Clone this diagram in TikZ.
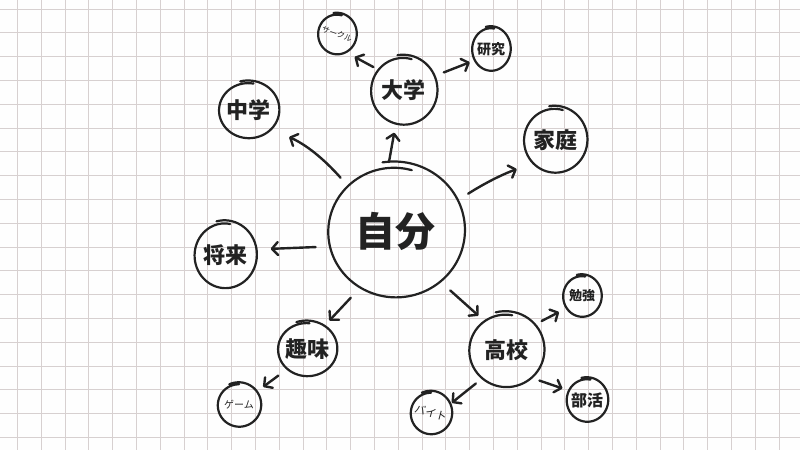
\documentclass[tikz,border=0pt]{standalone}
\usepackage{fontspec}
\newfontfamily\jpfont{Noto Sans CJK JP}
\usepackage{tikz}
\usetikzlibrary{arrows.meta, positioning}
\definecolor{inkdark}{RGB}{34, 34, 34}
\definecolor{gridgray}{RGB}{215, 208, 208}
\definecolor{paperwhite}{RGB}{254, 254, 254}

\tikzset{
    bubble/.style={circle, inner sep=0pt, text=inkdark},
    hugetext/.style={font={\jpfont\bfseries\fontsize{40}{44}\selectfont}},
    midtext/.style={font={\jpfont\bfseries\fontsize{22}{26}\selectfont}},
    smalltext/.style={font={\jpfont\bfseries\fontsize{14}{16}\selectfont}},
    tinytext/.style={font={\jpfont\fontsize{10}{12}\selectfont}},
    ringline/.style={draw=inkdark, line width=2.2pt, line cap=round},
    link/.style={draw=inkdark, line width=2.4pt, line cap=round,
        -{Straight Barb[length=6pt, width=13pt, round]}},
    gridline/.style={draw=gridgray, line width=0.8pt}
}

% hand drawn ring round a node: name, rx, ry, start angle
\newcommand{\sketchring}[4]{%
    \draw[ringline, shift={(#1.center)}]
        plot[smooth, samples=70, domain=0:385, variable=\t]
        ({(#2)*(1.04-0.1*\t/385)*cos(#4+\t)}, {(#3)*(1.04-0.1*\t/385)*sin(#4+\t)});
}

\begin{document}
\begin{tikzpicture}[x=1pt, y=-1pt]
        \fill[paperwhite] (0,0) rectangle (800,450);
        \useasboundingbox (0,0) rectangle (800,450);
        % squared paper
        \foreach \k in {0,...,32}
            \draw[gridline] ({17.3+23.8*\k},0) -- ({17.3+23.8*\k},450);
        \foreach \k in {0,...,18}
            \draw[gridline] (0,{9+23.8*\k}) -- (800,{9+23.8*\k});

        % centre
        \node[bubble, hugetext, minimum size=138pt] (jibun) at (395,231) {自分};
        % first ring
        \node[bubble, midtext, minimum size=68pt] (daigaku) at (403.5,90.5) {大学};
        \node[bubble, midtext, minimum size=62pt] (chuugaku) at (248.5,110) {中学};
        \node[bubble, midtext, minimum size=64pt] (katei) at (555,140) {家庭};
        \node[bubble, midtext, minimum size=64pt] (shourai) at (225,255) {将来};
        \node[bubble, midtext, minimum size=58pt] (shumi) at (307,349) {趣味};
        \node[bubble, midtext, minimum size=74pt] (koukou) at (506,350) {高校};
        % second ring
        \node[bubble, tinytext, font={\jpfont\fontsize{8}{10}\selectfont}, minimum size=40pt, rotate=-20] (saakuru) at (337,34) {サークル};
        \node[bubble, smalltext, minimum size=42pt] (kenkyuu) at (491,49) {研究};
        \node[bubble, tinytext, minimum size=44pt] (geemu) at (239,405) {ゲーム};
        \node[bubble, smalltext, font={\jpfont\bfseries\fontsize{13}{15}\selectfont}, minimum size=40pt] (benkyou) at (582,296) {勉強};
        \node[bubble, smalltext, font={\jpfont\bfseries\fontsize{16}{18}\selectfont}, minimum size=42pt] (bukatsu) at (587,400) {部活};
        \node[bubble, tinytext, font={\jpfont\fontsize{11}{13}\selectfont}, minimum size=42pt, rotate=-15] (baito) at (431,413) {バイト};

        \sketchring{jibun}{69}{67}{-100}
        \sketchring{daigaku}{33.5}{34.5}{-100}
        \sketchring{chuugaku}{30.5}{28.5}{-105}
        \sketchring{katei}{32}{33}{-100}
        \sketchring{shourai}{31.5}{33.5}{-105}
        \sketchring{shumi}{30}{27.5}{-110}
        \sketchring{koukou}{38}{37.5}{-105}
        \sketchring{saakuru}{19.5}{20.5}{-100}
        \sketchring{kenkyuu}{19.5}{22}{-105}
        \sketchring{geemu}{22}{22}{-115}
        \sketchring{benkyou}{19.5}{21}{-105}
        \sketchring{bukatsu}{21}{22}{-105}
        \sketchring{baito}{21}{21.5}{-115}

        % connectors
        \draw[link, shorten >=9pt] (jibun.95) -- (daigaku.257);
        \draw[link, shorten <=7pt, shorten >=18pt] (jibun.136) to[bend right=12] (chuugaku.321);
        \draw[link, shorten <=12pt, shorten >=14pt] (jibun.193) -- (shourai.10);
        \draw[link, shorten <=11pt, shorten >=7pt] (jibun.238) -- (shumi.53);
        \draw[link, shorten <=12pt, shorten >=7pt] (jibun.312) -- (koukou.127);
        \draw[link, shorten <=13pt, shorten >=17pt] (jibun.26) to[bend left=6] (katei.226);
        \draw[link, shorten <=4pt, shorten >=10pt] (daigaku.141) -- (saakuru.316);
        \draw[link, shorten <=10pt, shorten >=4pt] (daigaku.25) -- (kenkyuu.214);
        \draw[link, shorten <=10pt, shorten >=8pt] (shumi.225) -- (geemu.37);
        \draw[link, shorten <=9pt, shorten >=8pt] (koukou.42) -- (benkyou.218);
        \draw[link, shorten <=9pt, shorten >=6pt] (koukou.312) -- (bukatsu.153);
        \draw[link, shorten <=8pt, shorten >=2pt] (koukou.230) -- (baito.40);
    \end{tikzpicture}
\end{document}
